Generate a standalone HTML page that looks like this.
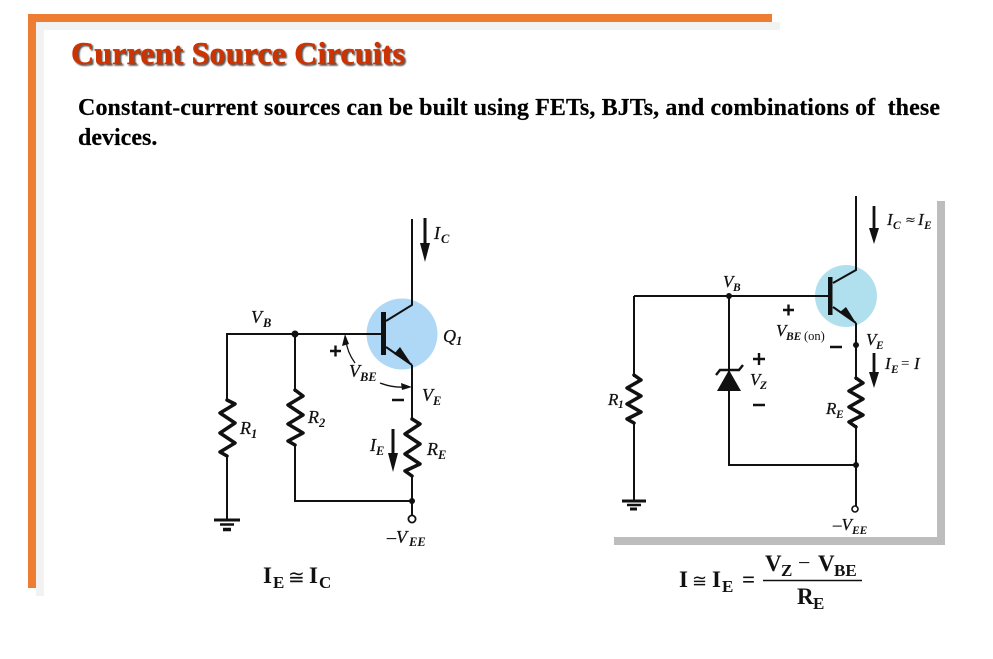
<!DOCTYPE html>
<html><head><meta charset="utf-8"><style>
html,body{margin:0;padding:0;background:#fff;width:993px;height:659px;overflow:hidden}
svg{display:block}
text{font-family:"Liberation Serif","DejaVu Serif",serif;fill:#111;white-space:pre}
.l{font-style:italic;font-size:18px;font-weight:500;stroke:#111;stroke-width:.25}
.s{font-style:italic;font-size:12.5px;font-weight:bold}
.f{font-weight:bold;font-size:23px}
.fs{font-weight:bold;font-size:17px}
.w{fill:none;stroke:#111;stroke-width:2}
.r{fill:none;stroke:#111;stroke-width:3.5;stroke-linejoin:round;stroke-linecap:round}
</style></head><body>
<svg width="993" height="659" viewBox="0 0 993 659" xmlns="http://www.w3.org/2000/svg">
<defs><filter id="sh" x="-5%" y="-20%" width="110%" height="140%"><feGaussianBlur stdDeviation="0.8"/></filter></defs>
<rect x="36" y="22" width="744" height="8" fill="#f2f2f2"/>
<rect x="36" y="22" width="8" height="574" fill="#f2f2f2"/>
<rect x="28" y="14" width="744" height="8" fill="#ed7d31"/>
<rect x="28" y="14" width="8" height="574" fill="#ed7d31"/>

<text x="72.500" y="65.500" font-size="32" font-weight="bold" style="fill:#555;stroke:#555;stroke-width:.6" filter="url(#sh)" textLength="334">Current Source Circuits</text>
<text x="71" y="64" font-size="32" font-weight="bold" style="fill:#cc3300;stroke:#cc3300;stroke-width:.5" textLength="334">Current Source Circuits</text>
<text x="78" y="115" font-size="24" font-weight="bold" style="fill:#000;stroke:#000;stroke-width:.2" textLength="862">Constant-current sources can be built using FETs, BJTs, and combinations of  these</text>
<text x="78" y="145" font-size="24" font-weight="bold" style="fill:#000;stroke:#000;stroke-width:.2">devices.</text>

<!-- Left circuit -->
<circle cx="402" cy="334" r="35.5" fill="#aed8f5"/>
<path class="w" d="M412 219V305L386 321M227 400V334H381M412 365V420M295 334V392M227 456V519M295 445V501H412M412 476V515"/>
<path class="w" d="M386 347L412 365"/>
<rect x="381" y="312" width="5" height="43" fill="#111"/>
<polygon points="412,365 394,354 400,347" fill="#111"/>
<circle cx="295" cy="334" r="3.500" fill="#111"/>
<circle cx="412" cy="501" r="3" fill="#111"/>
<circle cx="412" cy="519" r="3.600" fill="#fff" stroke="#111" stroke-width="1.800"/>
<polyline class="r" points="227,400 235,404 220,413 235,423 220,433 235,443 220,452 227,456"/>
<polyline class="r" points="295,390 303,396 288,405 303,415 288,424 303,433 288,441 295,445"/>
<polyline class="r" points="412,419 420,424 405,434 420,444 405,454 420,464 405,471 412,476"/>
<path d="M214 520H240" stroke="#111" stroke-width="3"/>
<path d="M220 524.500H234" stroke="#111" stroke-width="2.500"/>
<path d="M223 529.500H231" stroke="#111" stroke-width="3.500"/>
<path d="M425 218V248" stroke="#111" stroke-width="3"/>
<polygon points="420,243 430,243 425,262" fill="#111"/>
<path d="M393 429V458" stroke="#111" stroke-width="3"/>
<polygon points="388,453 398,453 393,472" fill="#111"/>
<path d="M355 363Q347 352 346 340" fill="none" stroke="#111" stroke-width="1.300"/>
<polygon points="345,334 342,346 349,344" fill="#111"/>
<path d="M380 383Q393 388 406 387" fill="none" stroke="#111" stroke-width="1.300"/>
<polygon points="412,387 401,383 402,390" fill="#111"/>
<path d="M330 351H341M335.500 345.500V356.500M392 400H404" stroke="#111" stroke-width="2.400"/>

<text class="l" x="251" y="323">V</text><text class="s" x="263" y="327">B</text>
<text class="l" x="434" y="239">I</text><text class="s" x="441" y="243">C</text>
<text class="l" x="443" y="342">Q</text><text class="s" x="456" y="345">1</text>
<text class="l" x="349" y="377">V</text><text class="s" x="360" y="381">BE</text>
<text class="l" x="422" y="401">V</text><text class="s" x="433" y="405">E</text>
<text class="l" x="240" y="434">R</text><text class="s" x="251" y="438">1</text>
<text class="l" x="308" y="423">R</text><text class="s" x="319" y="427">2</text>
<text class="l" x="370" y="451">I</text><text class="s" x="376" y="455">E</text>
<text class="l" x="427" y="455">R</text><text class="s" x="438" y="459">E</text>
<text class="l" x="387" y="543">–V</text><text class="s" x="409" y="546">EE</text>

<text class="f" x="263" y="583">I</text><text class="fs" x="273" y="588">E</text>
<text x="288" y="584" font-size="20" style="font-family:'DejaVu Serif',serif">≅</text>
<text class="f" x="309" y="583">I</text><text class="fs" x="319" y="588">C</text>

<!-- Right circuit -->
<rect x="937" y="201" width="8" height="344" fill="#bdbdbd"/>
<rect x="614" y="537" width="331" height="8" fill="#bdbdbd"/>
<circle cx="846" cy="296" r="31" fill="#b0e0ee"/>
<path class="w" d="M856 196V270L833 283M634 296H828M634 296V377M729 296V465H856M856 323V380M856 425V506M634 423V500"/>
<path class="w" d="M833 307L856 323"/>
<rect x="828" y="277" width="4.500" height="38" fill="#111"/>
<polygon points="856,323 840,312 846,307" fill="#111"/>
<circle cx="729" cy="296" r="3" fill="#111"/>
<circle cx="856" cy="345" r="3" fill="#111"/>
<circle cx="856" cy="465" r="3" fill="#111"/>
<circle cx="855" cy="509" r="3" fill="#fff" stroke="#111" stroke-width="1.600"/>
<polyline class="r" points="634,375 641,380 627,388 641,396 627,404 641,412 627,419 634,423"/>
<polyline class="r" points="856,378 863,383 849,391 863,399 849,407 863,415 849,422 856,427"/>
<polygon points="717,391 741,391 729,370" fill="#111"/>
<path d="M716 375L720 370H739L743 365" fill="none" stroke="#111" stroke-width="2.400"/>
<path d="M622 501H646" stroke="#111" stroke-width="3"/>
<path d="M627 505H641" stroke="#111" stroke-width="2.500"/>
<path d="M630 509H637" stroke="#111" stroke-width="3"/>
<path d="M874 206V232M874 353V376" stroke="#111" stroke-width="2.800"/>
<polygon points="869,228 879,228 874,244" fill="#111"/>
<polygon points="869,372 879,372 874,388" fill="#111"/>
<path d="M783 310H794M788.500 304.500V315.500M753 359H765M759 353V365M753 405H765M830 347H842" stroke="#111" stroke-width="2.400"/>

<text class="l" x="723" y="287" style="font-size:17px">V</text><text class="s" x="733" y="291" style="font-size:11.500px">B</text>
<text class="l" x="887" y="225" style="font-size:17px">I</text><text class="s" x="893" y="229" style="font-size:11.500px">C</text>
<text x="905" y="224" font-size="13" style="font-family:'DejaVu Sans',sans-serif">≈</text>
<text class="l" x="918" y="225" style="font-size:17px">I</text><text class="s" x="924" y="229" style="font-size:11.500px">E</text>
<text class="l" x="776" y="336" style="font-size:17px">V</text><text class="s" x="786" y="340" style="font-size:11.500px">BE</text>
<text x="804" y="340" font-size="12.500" font-weight="500">(on)</text>
<text class="l" x="866" y="345" style="font-size:17px">V</text><text class="s" x="876" y="349" style="font-size:11.500px">E</text>
<text class="l" x="885" y="369" style="font-size:17px">I</text><text class="s" x="891" y="373" style="font-size:11.500px">E</text>
<text x="901" y="368" font-size="15">=</text>
<text class="l" x="914" y="369" style="font-size:17px">I</text>
<text class="l" x="750" y="385" style="font-size:17px">V</text><text class="s" x="760" y="389" style="font-size:11.500px">Z</text>
<text class="l" x="608" y="405" style="font-size:17px">R</text><text class="s" x="618" y="408" style="font-size:11.500px">1</text>
<text class="l" x="826" y="414" style="font-size:17px">R</text><text class="s" x="836" y="418" style="font-size:11.500px">E</text>
<text class="l" x="833" y="530" style="font-size:17px">–V</text><text class="s" x="852" y="534" style="font-size:11.500px">EE</text>

<text class="f" x="679" y="587">I</text>
<text x="692" y="587" font-size="18" style="font-family:'DejaVu Serif',serif">≅</text>
<text class="f" x="712" y="587">I</text><text class="fs" x="722" y="592">E</text>
<text x="742" y="587" font-size="23" font-weight="bold">=</text>
<path d="M763 580.500H862" stroke="#111" stroke-width="1.500"/>
<text class="f" x="765" y="571">V</text><text class="fs" x="781" y="576">Z</text>
<text x="798" y="570" font-size="22">−</text>
<text class="f" x="818" y="571">V</text><text class="fs" x="834" y="576">BE</text>
<text class="f" x="797" y="604">R</text><text class="fs" x="813" y="609">E</text>
</svg>
</body></html>
